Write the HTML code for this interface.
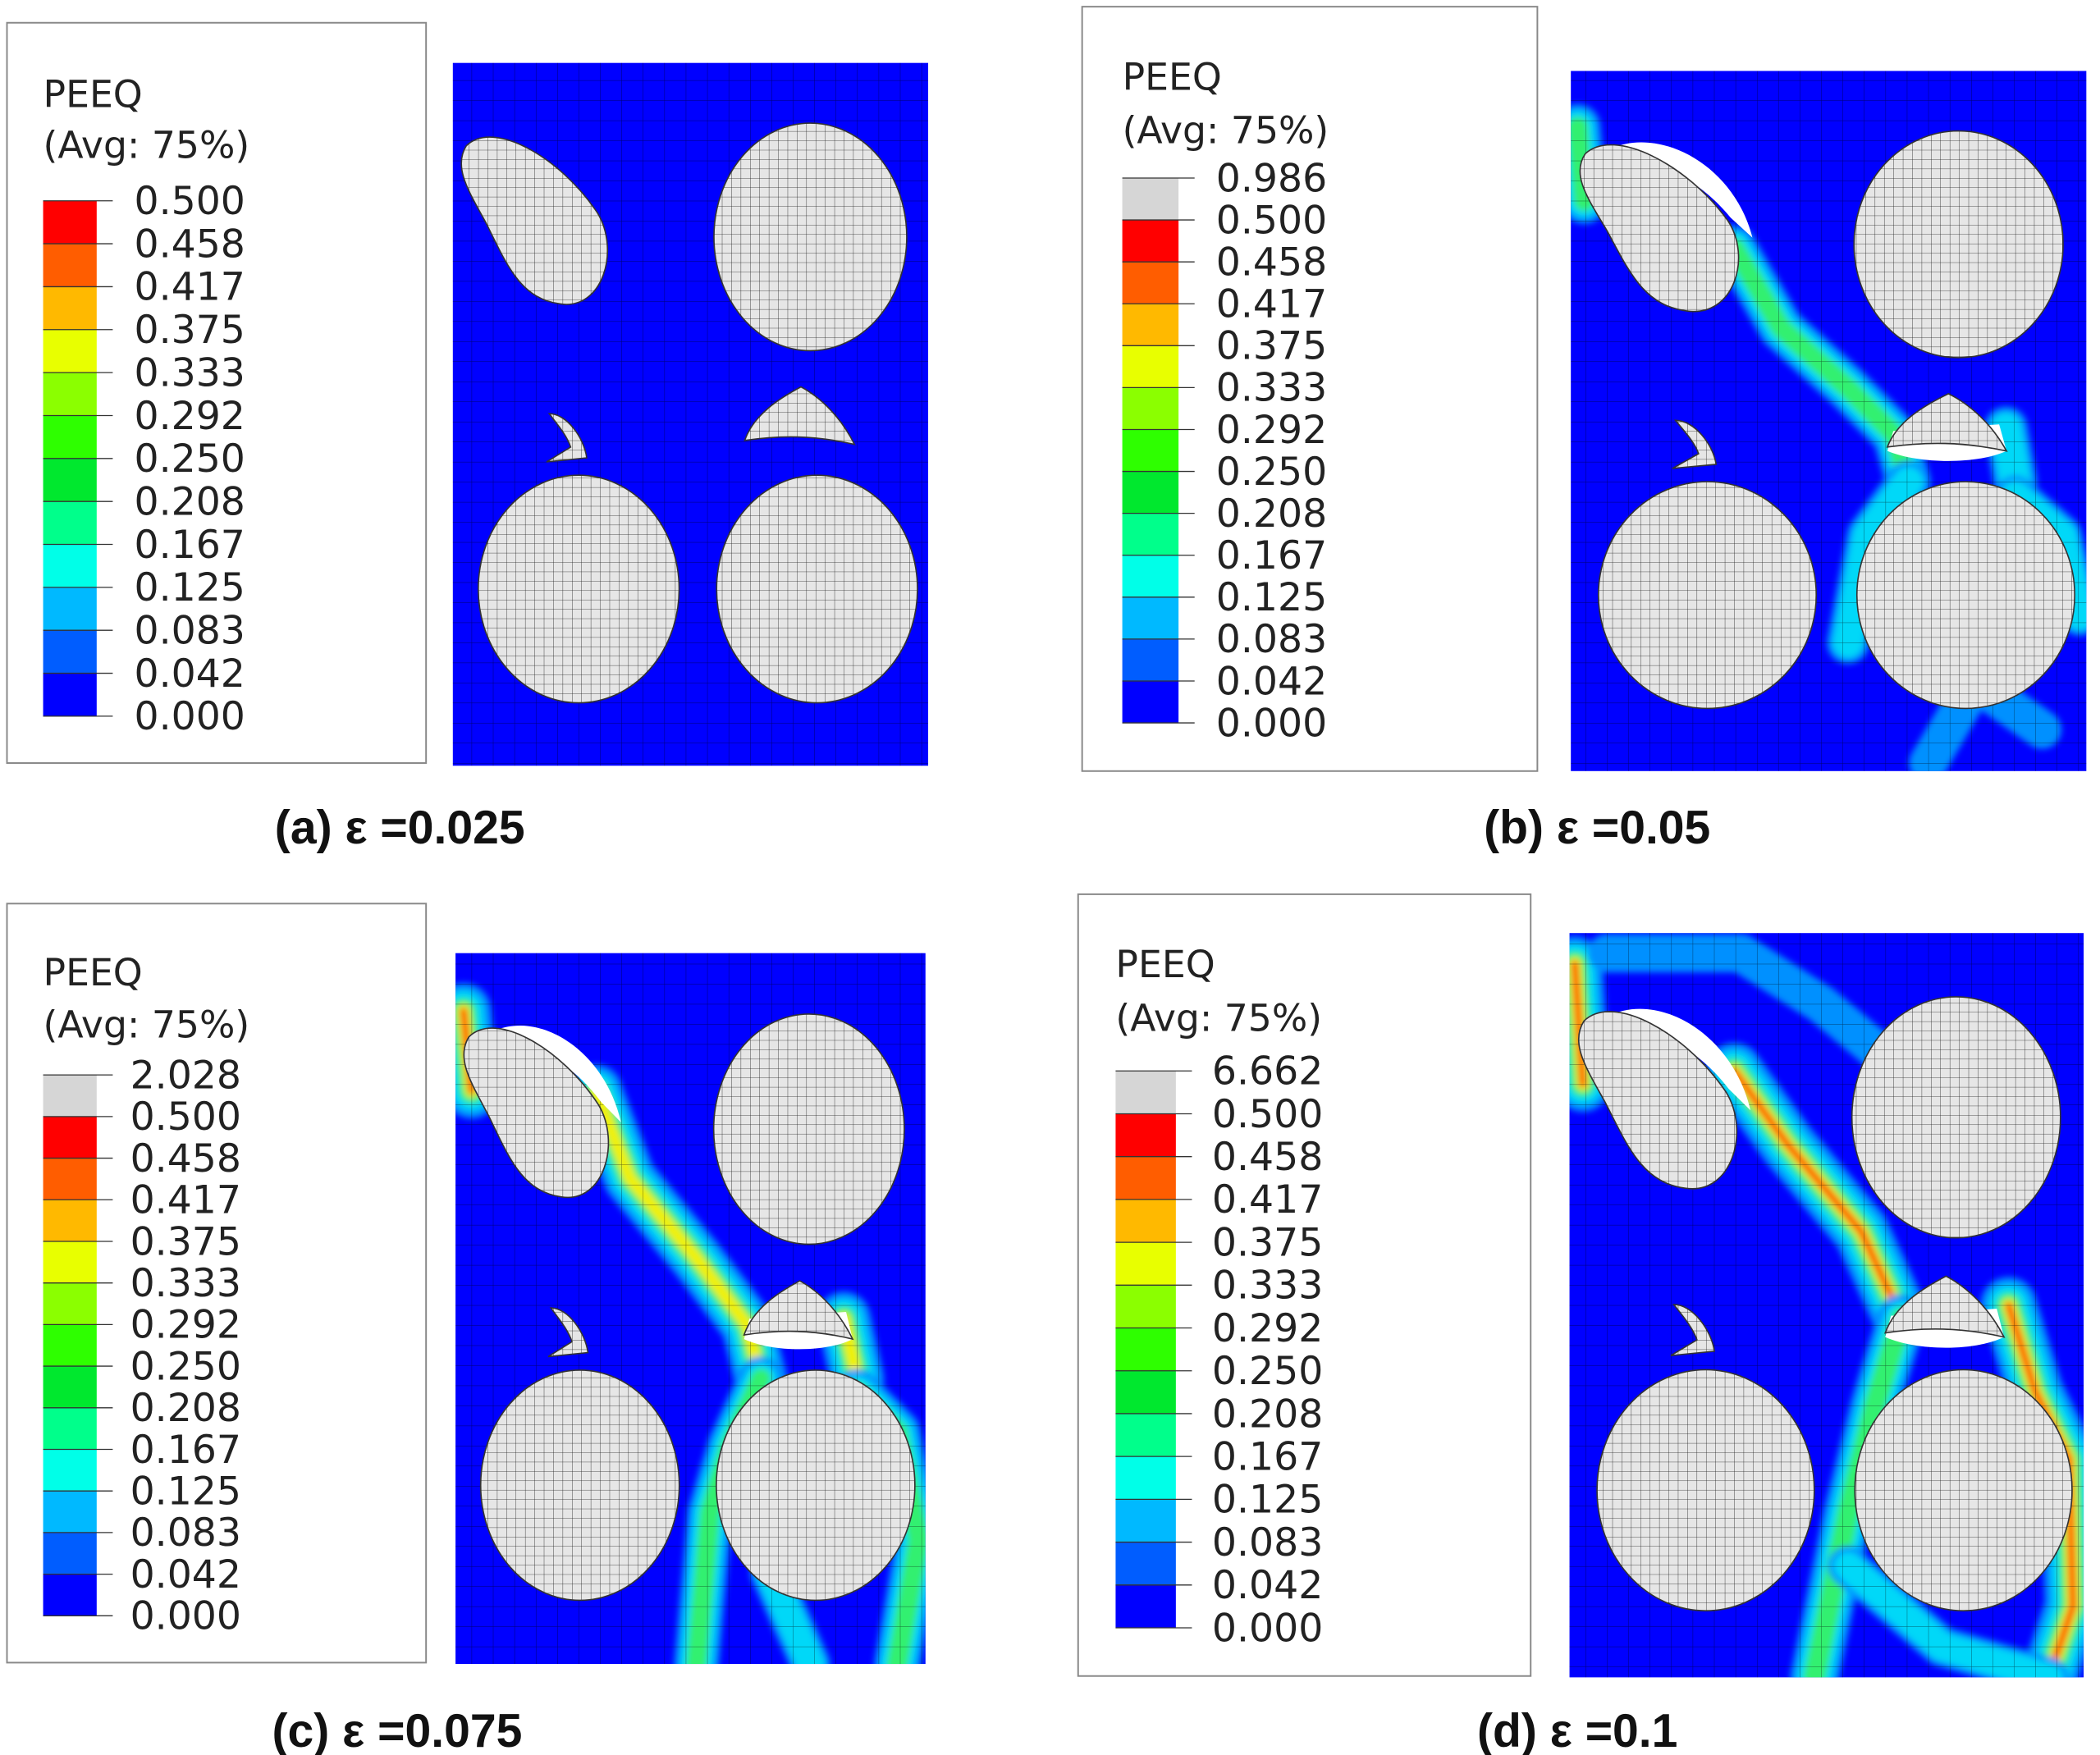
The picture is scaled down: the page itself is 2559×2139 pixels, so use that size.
<!DOCTYPE html>
<html><head><meta charset="utf-8">
<style>
html,body{margin:0;padding:0;background:#fff;}
svg{display:block;}
text{font-family:"DejaVu Sans","Liberation Sans",sans-serif;}
.cap{font-family:"Liberation Sans",sans-serif;font-weight:bold;}
</style></head>
<body>
<svg id="fig" xmlns="http://www.w3.org/2000/svg" width="2559" height="2139" viewBox="0 0 1568 1311">
<defs>
<pattern id="mesh" width="16" height="15" patternUnits="userSpaceOnUse">
<path d="M0 0H16M0 0V15" stroke="#000" stroke-width="0.6" opacity="0.55" fill="none"/>
</pattern>
<pattern id="fine" width="7" height="7" patternUnits="userSpaceOnUse">
<rect width="7" height="7" fill="#e6e6e6"/>
<path d="M0 0H7M0 0V7" stroke="#222" stroke-width="0.5" fill="none"/>
</pattern>
<filter id="blur"><feGaussianBlur stdDeviation="2.5"/></filter>
</defs>
</svg>
<script>
// legend data
const labelsA = ["0.500","0.458","0.417","0.375","0.333","0.292","0.250","0.208","0.167","0.125","0.083","0.042","0.000"];
const labelsB = ["0.986","0.500","0.458","0.417","0.375","0.333","0.292","0.250","0.208","0.167","0.125","0.083","0.042","0.000"];
const labelsC = ["2.028","0.500","0.458","0.417","0.375","0.333","0.292","0.250","0.208","0.167","0.125","0.083","0.042","0.000"];
const labelsD = ["6.662","0.500","0.458","0.417","0.375","0.333","0.292","0.250","0.208","0.167","0.125","0.083","0.042","0.000"];
const binColors = ["#ff0000","#ff5d00","#ffb900","#e8ff00","#8bff00","#2eff00","#00e82e","#00ff8b","#00ffe8","#00b9ff","#005dff","#0000ff"];
const captions = ["(a) ε =0.025","(b) ε =0.05","(c) ε =0.075","(d) ε =0.1"];

const NS="http://www.w3.org/2000/svg";
const svg=document.getElementById('fig');
function mk(tag,attrs,parent){const e=document.createElementNS(NS,tag);for(const k in attrs)e.setAttribute(k,attrs[k]);(parent||svg).appendChild(e);return e;}

const panels=[
 {id:'a',labels:labelsA,box:[5,17,313,553],bar:[32,150,40,385],lx:100,peq:[32,80],avg:[32,118],field:[338,47,355,525],cap:[205,630],bands:[]},
 {id:'b',labels:labelsB,box:[808,5,340,571],bar:[838,133,42,407],lx:908,peq:[838,67],avg:[838,107],field:[1173,53,385,523],cap:[1108,630],
  bands:[{h:0.6,p:[[1178,95],[1183,150]]},{h:0.55,p:[[1295,185],[1330,245],[1380,290],[1415,325],[1425,360]]},{h:0.45,p:[[1425,360],[1395,400],[1380,480]]},{h:0.5,p:[[1498,320],[1505,360]]},{h:0.35,p:[[1505,370],[1540,400],[1553,460]]},{h:0.3,p:[[1440,570],[1475,510],[1525,545]]}]},
 {id:'c',labels:labelsC,box:[5,675,313,567],bar:[32,803,40,404],lx:97,peq:[32,736],avg:[32,775],field:[340,712,351,531],cap:[203,1305],
  bands:[{h:0.95,p:[[346,755],[352,815]]},{h:0.85,p:[[445,815],[470,880],[520,940],[558,990],[568,1030]]},{h:0.55,p:[[568,1030],[545,1080],[530,1130],[520,1243]]},{h:0.9,p:[[630,985],[640,1030]]},{h:0.6,p:[[640,1040],[670,1070],[686,1150],[670,1243]]},{h:0.35,p:[[575,1175],[605,1243]]}]},
 {id:'d',labels:labelsD,box:[805,668,338,584],bar:[833,800,45,416],lx:905,peq:[833,730],avg:[833,770],field:[1172,697,384,556],cap:[1103,1305],
  bands:[{h:0.95,p:[[1176,720],[1182,810]]},{h:1,p:[[1295,800],[1335,855],[1390,920],[1420,985]]},{h:0.7,p:[[1420,985],[1400,1050],[1380,1130],[1355,1253]]},{h:1,p:[[1500,975],[1520,1040],[1545,1090],[1548,1200],[1530,1253]]},{h:0.3,p:[[1200,712],[1300,712],[1360,750],[1420,800]]},{h:0.35,p:[[1380,1170],[1450,1230],[1530,1253]]}]}
];

panels.forEach((p,pi)=>{
 const g=mk('g',{});
 
 
 const lg=mk('g',{},g);
 
 
 mk('rect',{x:p.box[0],y:p.box[1],width:p.box[2],height:p.box[3],fill:'#fff',stroke:'#888','stroke-width':1.2},lg);
 const t1=mk('text',{x:p.peq[0],y:p.peq[1],'font-size':28,fill:'#222'},lg);t1.textContent='PEEQ';
 
 
 const t2=mk('text',{x:p.avg[0],y:p.avg[1],'font-size':28,fill:'#222'},lg);t2.textContent='(Avg: 75%)';
 
 
 const n=p.labels.length-1;
 const colors=(n===13)?['#d6d6d6'].concat(binColors):binColors;
 const [bx,by,bw,bh]=p.bar;const step=bh/n;
 for(let i=0;i<n;i++){
  const r=mk('rect',{x:bx,y:by+i*step,width:bw,height:step+0.3,fill:colors[i]},lg);
  
  
 }
 for(let i=0;i<=n;i++){
  const yy=by+i*step;
  mk('line',{x1:bx,x2:bx+bw+12,y1:yy,y2:yy,stroke:'#333','stroke-width':0.8},lg);
  const t=mk('text',{x:p.lx,y:yy+10,'font-size':29,fill:'#222'},lg);t.textContent=p.labels[i];
  
  
 }
 const [fx,fy,fw,fh]=p.field;const sx=fw/355,sy=fh/525;
 const fg=mk('g',{},g);
 
 
 const cid='clip'+p.id;
 const cp=mk('clipPath',{id:cid},svg);mk('rect',{x:fx,y:fy,width:fw,height:fh},cp);
 mk('rect',{x:fx,y:fy,width:fw,height:fh,fill:'#0000ff'},fg);
 const bandG=mk('g',{'clip-path':'url(#'+cid+')'},fg);
 const inner=mk('g',{filter:'url(#blur)'},bandG);
 const layers=[[0,42,'#0090ff'],[0.3,30,'#00d8f8'],[0.5,19,'#30f070'],[0.7,10,'#f0f000'],[0.9,5,'#ff3000']];
 p.bands.forEach(b=>{
  const d='M'+b.p.map(q=>q.join(' ')).join(' L');
  layers.forEach(l=>{ if(b.h>l[0]) mk('path',{d:d,fill:'none',stroke:l[2],'stroke-width':l[1]*(0.55+0.45*b.h),'stroke-linejoin':'round','stroke-linecap':'round'},inner);});
 });
 mk('rect',{x:fx,y:fy,width:fw,height:fh,fill:'url(#mesh)'},fg);
 const T=(x,y)=>(fx+x*sx).toFixed(1)+' '+(fy+y*sy).toFixed(1);
 const pg=mk('g',{},fg);
 
 
 [[267,130,72,85],[94,393,75,85],[272,393,75,85]].forEach(c=>{
  mk('ellipse',{cx:fx+c[0]*sx,cy:fy+c[1]*sy,rx:c[2]*sx,ry:c[3]*sy,fill:'url(#fine)',stroke:'#333','stroke-width':1},pg);
 });
 if(pi>0) mk('path',{d:'M'+T(8,75)+' C'+T(40,30)+' '+T(110,60)+' '+T(125,125)+' L'+T(110,110)+' C'+T(80,70)+' '+T(40,60)+' '+T(8,75)+'Z',fill:'#fff'},pg);
 mk('path',{d:'M'+T(10,62)+' C'+T(30,42)+' '+T(80,70)+' '+T(108,112)+' C'+T(125,140)+' '+T(112,185)+' '+T(80,180)+' C'+T(50,176)+' '+T(40,150)+' '+T(25,120)+' C'+T(12,96)+' '+T(0,78)+' '+T(10,62)+'Z',fill:'url(#fine)',stroke:'#333','stroke-width':1},pg);
 mk('path',{d:'M'+T(72,262)+' C'+T(85,262)+' '+T(98,280)+' '+T(100,295)+' L'+T(70,298)+' L'+T(88,287)+' C'+T(85,278)+' '+T(78,270)+' '+T(72,262)+'Z',fill:'url(#fine)',stroke:'#333','stroke-width':1},pg);
 if(pi>0) mk('path',{d:'M'+T(218,285)+' C'+T(240,295)+' '+T(280,295)+' '+T(300,285)+' L'+T(295,265)+' L'+T(222,270)+'Z',fill:'#fff'},pg);
 mk('path',{d:'M'+T(218,282)+' C'+T(225,262)+' '+T(245,250)+' '+T(260,242)+' C'+T(275,250)+' '+T(290,265)+' '+T(300,285)+' C'+T(270,278)+' '+T(245,278)+' '+T(218,282)+'Z',fill:'url(#fine)',stroke:'#333','stroke-width':1},pg);
 const ct=mk('text',{x:p.cap[0],y:p.cap[1],'font-size':35,fill:'#111','class':'cap'},g);
 ct.textContent=captions[pi];
 
 
});
</script>
</body></html>
